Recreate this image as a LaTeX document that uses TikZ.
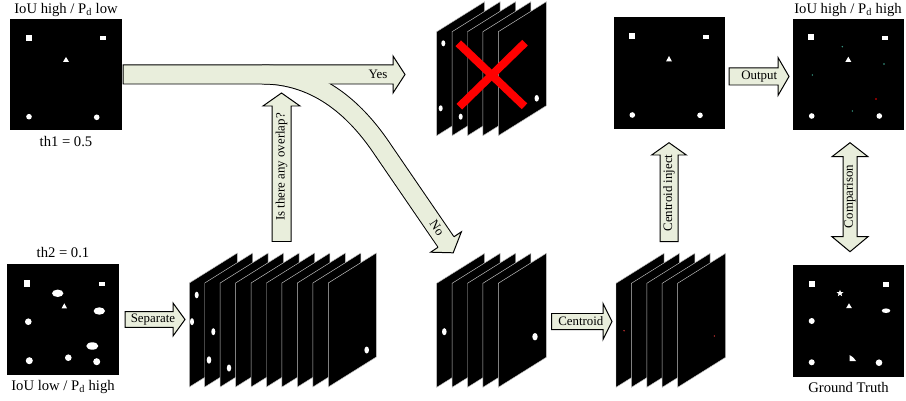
\documentclass[tikz,border=0pt]{standalone}
\usepackage{fontspec}
\setmainfont{Liberation Serif}
\usetikzlibrary{calc, shapes.geometric}

\begin{document}
\begin{tikzpicture}[x=0.03cm, y=-0.03cm,
    maskImg/.style={fill=black, inner sep=0pt, minimum size=3.33cm},
    lbl/.style={font=\fontsize{12.5}{14}\selectfont, inner sep=0pt},
    arrowLbl/.style={font=\fontsize{11}{12}\selectfont, inner sep=0pt},
    blockArrow/.style={fill=arrowFill, draw=black, line width=0.85pt, line join=miter},
    slice/.style={fill=black, draw=gray!45, line width=0.4pt},
    blob/.style={fill=white}]
    % Define colors
    \definecolor{arrowFill}{HTML}{E9EEDC}
    \definecolor{dotTeal}{HTML}{3AA08A}

    % Define slice size
    \def\sliceW{48}
    \def\sliceRise{30}
    \def\sliceH{104}
    \def\sliceStep{15.4}

    \useasboundingbox (0,0) rectangle (906,401);

    % Draw mask images
    \node[maskImg] (imgTh1) at (66,74.5) {};
    \node[maskImg] (imgTh2) at (63,319.5) {};
    \node[maskImg] (imgInject) at (669,73) {};
    \node[maskImg] (imgOut) at (848,74.5) {};
    \node[maskImg] (imgGT) at (848.5,321) {};

    % Label mask images
    \node[lbl] (lblTh1) at (66,10) {IoU high / P\textsubscript{d} low};
    \node[lbl] (lblTh1Val) at (66,142) {th1 = 0.5};
    \node[lbl] (lblTh2Val) at (63,253) {th2 = 0.1};
    \node[lbl] (lblTh2) at (63,387) {IoU low / P\textsubscript{d} high};
    \node[lbl] (lblOut) at (848,10) {IoU high / P\textsubscript{d} high};
    \node[lbl] (lblGT) at (848.5,387) {Ground Truth};

    % Targets in th1 image
    \fill[blob] (26,35) rectangle (32,41);
    \fill[blob] (100,36.5) rectangle (106,40.5);
    \fill[blob] (66,57) -- (69,62) -- (63,62) -- cycle;
    \fill[blob] (29,116.7) circle (2.8);
    \fill[blob] (96.7,117.3) circle (2.8);

    % Targets in th2 image
    \fill[blob] (23.5,280) rectangle (30,286.7);
    \fill[blob] (99,281.7) rectangle (105,285.7);
    \fill[blob] (57.7,293.3) ellipse (5.7 and 3.7);
    \fill[blob] (64.3,303.3) -- (67,308.3) -- (61.6,308.3) -- cycle;
    \fill[blob] (99.3,311) ellipse (5.7 and 3.7);
    \fill[blob] (28.3,321.7) circle (3.3);
    \fill[blob] (92.3,346) ellipse (6 and 3.7);
    \fill[blob] (29.3,360.7) circle (3.5);
    \fill[blob] (68.3,357.7) circle (3.3);
    \fill[blob] (96.7,361.7) circle (3.5);

    % Targets in injected image
    \fill[blob] (628.7,33) rectangle (634.7,39);
    \fill[blob] (703,34.7) rectangle (709,38.7);
    \fill[blob] (669,56) -- (672,61.5) -- (666,61.5) -- cycle;
    \fill[blob] (632.3,115) circle (2.8);
    \fill[blob] (700,115.3) circle (2.8);

    % Targets in output image
    \fill[blob] (808,34) rectangle (814,40);
    \fill[blob] (882,35.7) rectangle (888,39.7);
    \fill[blob] (848.3,56.7) -- (851.3,62) -- (845.3,62) -- cycle;
    \fill[blob] (811.7,116) circle (2.8);
    \fill[blob] (879.3,116) circle (2.8);
    \foreach \p in {(842.3,46.7), (884,64), (812.3,75), (852.3,111)}
        \fill[dotTeal] \p circle (0.8);
    \fill[red] (876,99) circle (0.9);

    % Targets in ground truth image
    \fill[blob] (808.7,281) rectangle (814.7,287);
    \fill[blob] (883,282) rectangle (889,286.5);
    \node[star, star points=5, star point ratio=2.3, fill=white, inner sep=0pt, minimum size=6pt] (gtStar) at (840,293.3) {};
    \fill[blob] (849,303.3) -- (851.8,308) -- (846.2,308) -- cycle;
    \fill[blob] (886,310.7) ellipse (4.3 and 2.3);
    \fill[blob] (811.7,321) circle (3);
    \fill[blob] (849.5,355) .. controls (853,357) .. (856,361) -- (849.5,361) -- cycle;
    \fill[blob] (811.7,362.3) circle (3);
    \fill[blob] (879,362.7) circle (3.3);

    % Separated slices
    \foreach \i in {0,...,9}
        \filldraw[slice] ({189.3+15.44*\i},283) -- ++(\sliceW,-\sliceRise) -- ++(0,\sliceH) -- ++(-\sliceW,\sliceRise) -- cycle;
    \fill[blob] (196.7,295) ellipse (2 and 3.3);
    \fill[blob] (192,321.7) ellipse (2 and 3.5);
    \fill[blob] (213.3,331.7) ellipse (2 and 3.5);
    \fill[blob] (209,360) ellipse (2.3 and 3.7);
    \fill[blob] (229,368) ellipse (2.2 and 3.5);
    \fill[blob] (366.7,350) ellipse (2.3 and 3.5);

    % Overlapping slices (rejected)
    \foreach \i in {0,...,4}
        \filldraw[slice] ({436.7+\sliceStep*\i},31.7) -- ++(\sliceW,-\sliceRise) -- ++(0,\sliceH) -- ++(-\sliceW,\sliceRise) -- cycle;
    \fill[blob] (443.3,43.3) ellipse (2 and 3);
    \fill[blob] (440.7,108.3) ellipse (2 and 3);
    \fill[blob] (460.7,116.7) ellipse (2 and 3);
    \fill[blob] (536.7,98.3) ellipse (2.2 and 3.3);
    \draw[red, line width=6.8pt] (458.3,43.3) -- (524.5,106.3);
    \draw[red, line width=6.8pt] (525,42.7) -- (459.3,106.7);

    % Non-overlapping slices
    \foreach \i in {0,...,4}
        \filldraw[slice] ({436.7+\sliceStep*\i},283.3) -- ++(\sliceW,-\sliceRise) -- ++(0,\sliceH) -- ++(-\sliceW,\sliceRise) -- cycle;
    \fill[blob] (444.3,331.7) ellipse (2.3 and 3.5);
    \fill[blob] (535,336.7) ellipse (2.7 and 3.7);

    % Centroid slices
    \foreach \i in {0,...,4}
        \filldraw[slice] ({616+\sliceStep*\i},283.3) -- ++(\sliceW,-\sliceRise) -- ++(0,\sliceH) -- ++(-\sliceW,\sliceRise) -- cycle;
    \fill[red!60!gray] (624,330.7) circle (0.8);
    \fill[red!60!gray] (714.3,336) circle (0.8);

    % Yes / No arrows
    \coordinate (noStart) at (262,74.5);
    \coordinate (noBase) at (446,242);
    \draw[black, line width=17pt] (noStart) .. controls (320,74.5) and (358,112.5) .. (383,150) -- (noBase);
    \filldraw[blockArrow] (123,65) -- (393,65) -- (393,56) -- (405,74.5) -- (393,93) -- (393,84) -- (123,84) -- cycle;
    \filldraw[blockArrow] (453.9,236.8) -- (461.4,231.8) -- (453.2,252.8) -- (430.6,252.2) -- (438.1,247.2);
    \draw[arrowFill, line width=15.3pt] (noStart) .. controls (320,74.5) and (358,112.5) .. (383,150) -- ($(noBase)+(0.83,1.25)$);
    \node[arrowLbl] (lblYes) at (378,74.5) {Yes};
    \node[arrowLbl, rotate=-56.45] (lblNo) at (437,228) {No};

    % Overlap question arrow
    \filldraw[blockArrow] (272,241.5) -- (272,106) -- (263,106) -- (281.5,93) -- (300,106) -- (291,106) -- (291,241.5) -- cycle;
    \node[arrowLbl, rotate=90] (lblOverlap) at (281.5,167) {Is there any overlap?};

    % Separate arrow
    \filldraw[blockArrow] (125,311.7) -- (173,311.7) -- (173,303) -- (185,319.5) -- (173,336) -- (173,327.3) -- (125,327.3) -- cycle;
    \node[arrowLbl] (lblSeparate) at (153,319.5) {Separate};

    % Centroid arrow
    \filldraw[blockArrow] (551.7,313.5) -- (603,313.5) -- (603,303.5) -- (612,321.5) -- (603,339.5) -- (603,329.5) -- (551.7,329.5) -- cycle;
    \node[arrowLbl] (lblCentroid) at (580.8,321.5) {Centroid};

    % Centroid inject arrow
    \filldraw[blockArrow] (660,241.7) -- (660,155) -- (651.7,155) -- (669,142.7) -- (686.3,155) -- (678,155) -- (678,241.7) -- cycle;
    \node[arrowLbl, rotate=90] (lblInject) at (669,193) {Centroid inject};

    % Output arrow
    \filldraw[blockArrow] (729,68) -- (778,68) -- (778,57.5) -- (789,76.5) -- (778,95.5) -- (778,85) -- (729,85) -- cycle;
    \node[arrowLbl] (lblOutput) at (759.2,76.5) {Output};

    % Comparison arrow
    \filldraw[blockArrow] (843,156.7) -- (832,156.7) -- (850,142.7) -- (868,156.7) -- (857,156.7) -- (857,236.7) -- (868,236.7) -- (850,251.7) -- (832,236.7) -- (843,236.7) -- cycle;
    \node[arrowLbl, rotate=90] (lblComparison) at (850,196.5) {Comparison};

\end{tikzpicture}
\end{document}
